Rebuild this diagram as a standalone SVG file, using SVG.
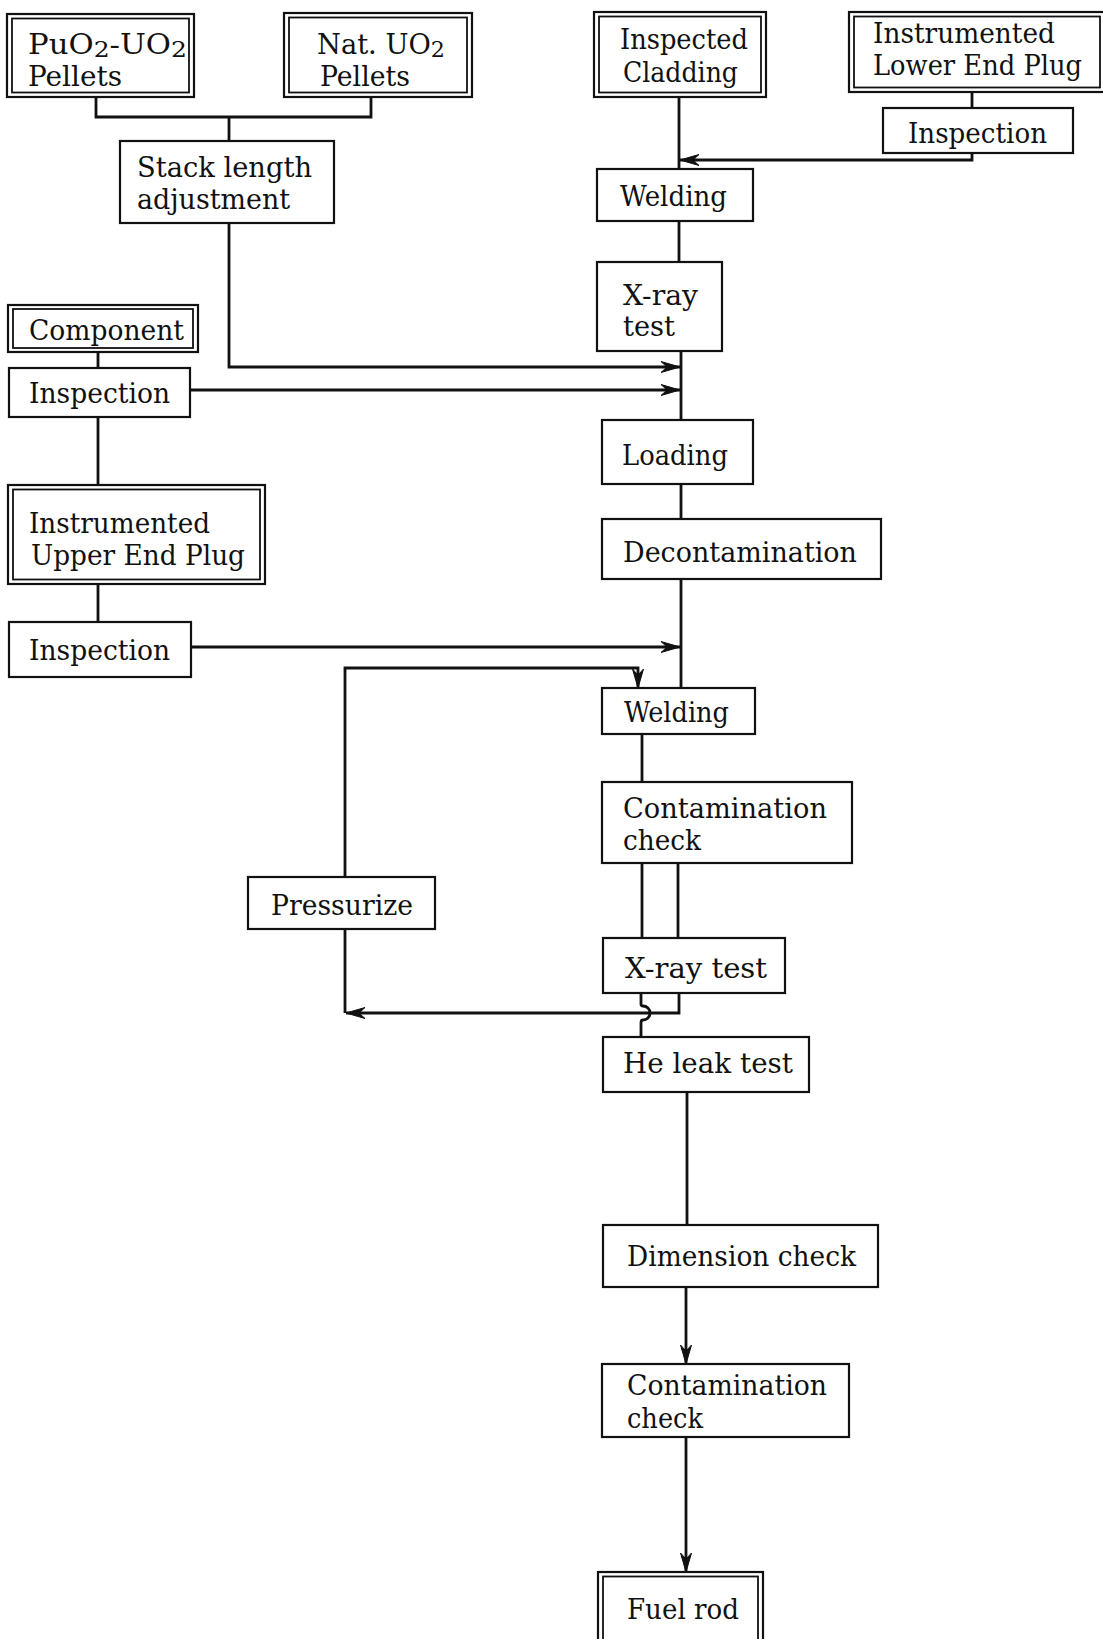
<svg xmlns="http://www.w3.org/2000/svg" width="1103" height="1639" viewBox="0 0 1103 1639">
<style>
text{font-family:"DejaVu Serif","Liberation Serif",serif;font-size:27px;fill:#111;}
.b{fill:#fff;stroke:#111;stroke-width:2.2;}
.d{fill:none;stroke:#111;stroke-width:1.8;}
.c{fill:none;stroke:#111;stroke-width:2.8;}
.s{font-size:22px;}
</style>
<defs>
<marker id="ah" markerUnits="userSpaceOnUse" markerWidth="24" markerHeight="14" refX="20" refY="6" orient="auto" viewBox="0 0 24 12">
<path d="M1,0.5 L20,6 L1,11.5 L7,6 Z" fill="#111" stroke="#111" stroke-width="1"/>
</marker>
</defs>
<rect width="1103" height="1639" fill="#fff"/>

<g id="connectors">
<path class="c" d="M96,97 V117 H371 V97"/>
<path class="c" d="M229,117 V141"/>
<path class="c" d="M229,223 V367 H680" marker-end="url(#ah)"/>
<path class="c" d="M679,97 V169"/>
<path class="c" d="M972,92 V108"/>
<path class="c" d="M972,153 V160 H680" marker-end="url(#ah)"/>
<path class="c" d="M679,221 V262"/>
<path class="c" d="M681,351 V420"/>
<path class="c" d="M98,352 V368"/>
<path class="c" d="M190,390 H680" marker-end="url(#ah)"/>
<path class="c" d="M98,417 V485"/>
<path class="c" d="M98,584 V622"/>
<path class="c" d="M191,647 H680" marker-end="url(#ah)"/>
<path class="c" d="M681,484 V519"/>
<path class="c" d="M681,579 V688"/>
<path class="c" d="M345,877 V668 H638 V688" marker-end="url(#ah)"/>
<path class="c" d="M642,734 V782"/>
<path class="c" d="M642,863 V938"/>
<path class="c" d="M678,863 V938"/>
<path class="c" d="M679,993 V1013 H346" marker-end="url(#ah)"/>
<path class="c" d="M345,929 V1013"/>
<path class="c" d="M641,993 V1004 Q641,1006 643,1006 A7,7 0 0 1 643,1020 Q641,1020 641,1023 V1037"/>
<path class="c" d="M687,1092 V1225"/>
<path class="c" d="M686,1287 V1364" marker-end="url(#ah)"/>
<path class="c" d="M686,1437 V1572" marker-end="url(#ah)"/>
</g>

<g id="n-puo2">
<rect class="b" x="7" y="14" width="187" height="83"/>
<rect class="d" x="12" y="18.5" width="177" height="74"/>
<text x="28" y="54" textLength="159" lengthAdjust="spacingAndGlyphs">PuO<tspan class="s" dy="3">2</tspan><tspan dy="-3">-UO</tspan><tspan class="s" dy="3">2</tspan></text>
<text x="28" y="86" textLength="94" lengthAdjust="spacingAndGlyphs">Pellets</text>
</g>

<g id="n-natuo2">
<rect class="b" x="284" y="13" width="188" height="84"/>
<rect class="d" x="289" y="17.5" width="178" height="75"/>
<text x="317" y="54" textLength="128" lengthAdjust="spacingAndGlyphs">Nat. UO<tspan class="s" dy="3">2</tspan></text>
<text x="320" y="86" textLength="90" lengthAdjust="spacingAndGlyphs">Pellets</text>
</g>

<g id="n-stack">
<rect class="b" x="120" y="141" width="214" height="82"/>
<text x="137" y="177" textLength="175" lengthAdjust="spacingAndGlyphs">Stack length</text>
<text x="137" y="209" textLength="153" lengthAdjust="spacingAndGlyphs">adjustment</text>
</g>

<g id="n-cladding">
<rect class="b" x="594" y="12" width="172" height="85"/>
<rect class="d" x="599" y="16.5" width="162" height="76"/>
<text x="620" y="49" textLength="128" lengthAdjust="spacingAndGlyphs">Inspected</text>
<text x="623" y="82" textLength="115" lengthAdjust="spacingAndGlyphs">Cladding</text>
</g>

<g id="n-lowerplug">
<rect class="b" x="849" y="12" width="258" height="80"/>
<rect class="d" x="854" y="16.5" width="246" height="71"/>
<text x="873" y="43" textLength="182" lengthAdjust="spacingAndGlyphs">Instrumented</text>
<text x="873" y="75" textLength="209" lengthAdjust="spacingAndGlyphs">Lower End Plug</text>
</g>

<g id="n-insp-lower">
<rect class="b" x="883" y="108" width="190" height="45"/>
<text x="908" y="143" textLength="139" lengthAdjust="spacingAndGlyphs">Inspection</text>
</g>

<g id="n-welding1">
<rect class="b" x="597" y="169" width="156" height="52"/>
<text x="620" y="206" textLength="107" lengthAdjust="spacingAndGlyphs">Welding</text>
</g>

<g id="n-xray1">
<rect class="b" x="597" y="262" width="125" height="89"/>
<text x="623" y="305" textLength="75" lengthAdjust="spacingAndGlyphs">X-ray</text>
<text x="623" y="336" textLength="52" lengthAdjust="spacingAndGlyphs">test</text>
</g>

<g id="n-component">
<rect class="b" x="8" y="305" width="190" height="47"/>
<rect class="d" x="13" y="309" width="180" height="39"/>
<text x="29" y="340" textLength="155" lengthAdjust="spacingAndGlyphs">Component</text>
</g>

<g id="n-insp1">
<rect class="b" x="9" y="368" width="181" height="49"/>
<text x="29" y="403" textLength="141" lengthAdjust="spacingAndGlyphs">Inspection</text>
</g>

<g id="n-upperplug">
<rect class="b" x="8" y="485" width="257" height="99"/>
<rect class="d" x="13" y="489.5" width="247" height="90"/>
<text x="29" y="533" textLength="181" lengthAdjust="spacingAndGlyphs">Instrumented</text>
<text x="31" y="565" textLength="214" lengthAdjust="spacingAndGlyphs">Upper End Plug</text>
</g>

<g id="n-insp2">
<rect class="b" x="9" y="622" width="182" height="55"/>
<text x="29" y="660" textLength="141" lengthAdjust="spacingAndGlyphs">Inspection</text>
</g>

<g id="n-loading">
<rect class="b" x="602" y="420" width="151" height="64"/>
<text x="622" y="465" textLength="106" lengthAdjust="spacingAndGlyphs">Loading</text>
</g>

<g id="n-decon">
<rect class="b" x="602" y="519" width="279" height="60"/>
<text x="623" y="562" textLength="234" lengthAdjust="spacingAndGlyphs">Decontamination</text>
</g>

<g id="n-welding2">
<rect class="b" x="602" y="688" width="153" height="46"/>
<text x="624" y="722" textLength="105" lengthAdjust="spacingAndGlyphs">Welding</text>
</g>

<g id="n-contam1">
<rect class="b" x="602" y="782" width="250" height="81"/>
<text x="623" y="818" textLength="204" lengthAdjust="spacingAndGlyphs">Contamination</text>
<text x="623" y="850" textLength="78" lengthAdjust="spacingAndGlyphs">check</text>
</g>

<g id="n-pressurize">
<rect class="b" x="248" y="877" width="187" height="52"/>
<text x="271" y="915" textLength="142" lengthAdjust="spacingAndGlyphs">Pressurize</text>
</g>

<g id="n-xray2">
<rect class="b" x="603" y="938" width="182" height="55"/>
<text x="625" y="978" textLength="142" lengthAdjust="spacingAndGlyphs">X-ray test</text>
</g>

<g id="n-heleak">
<rect class="b" x="603" y="1037" width="206" height="55"/>
<text x="623" y="1073" textLength="170" lengthAdjust="spacingAndGlyphs">He leak test</text>
</g>

<g id="n-dimension">
<rect class="b" x="603" y="1225" width="275" height="62"/>
<text x="627" y="1266" textLength="229" lengthAdjust="spacingAndGlyphs">Dimension check</text>
</g>

<g id="n-contam2">
<rect class="b" x="602" y="1364" width="247" height="73"/>
<text x="627" y="1395" textLength="200" lengthAdjust="spacingAndGlyphs">Contamination</text>
<text x="627" y="1428" textLength="76" lengthAdjust="spacingAndGlyphs">check</text>
</g>

<g id="n-fuelrod">
<rect class="b" x="598" y="1572" width="165" height="80"/>
<rect class="d" x="603" y="1576.5" width="155" height="80"/>
<text x="627" y="1619" textLength="112" lengthAdjust="spacingAndGlyphs">Fuel rod</text>
</g>
</svg>
